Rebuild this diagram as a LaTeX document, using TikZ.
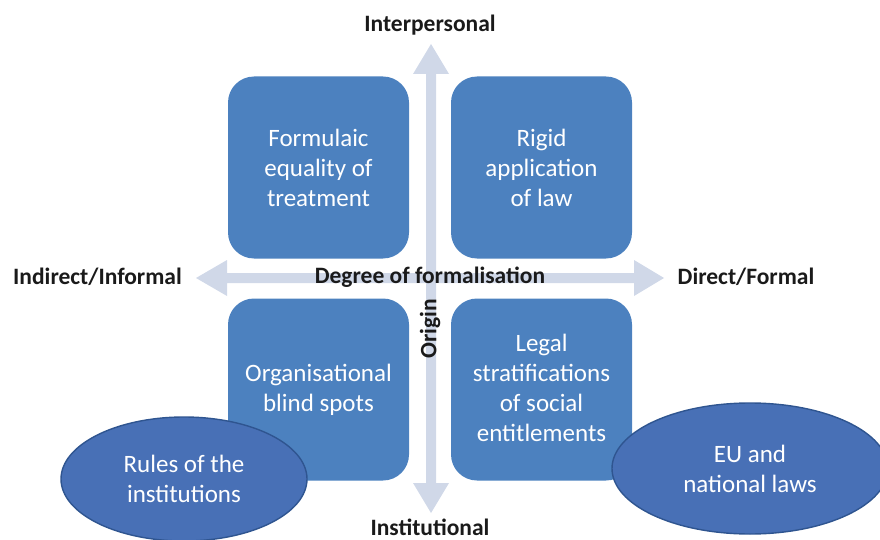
\documentclass[tikz,border=0pt]{standalone}
\usepackage{fontspec}
\setmainfont{Carlito}
\usetikzlibrary{shapes.geometric}
\definecolor{boxblue}{HTML}{4C81BF}
\definecolor{ellblue}{HTML}{4870B6}
\definecolor{ellborder}{HTML}{2F5590}
\definecolor{arrowgray}{HTML}{D0D8E8}
\definecolor{labeltext}{HTML}{1A1A1A}
\tikzset{
  quad/.style={fill=boxblue, rounded corners=26pt, minimum width=181pt, minimum height=182pt,
    inner sep=0pt},
  quadtext/.style={text=white, font=\fontsize{25}{30}\selectfont, align=center, inner sep=0pt},
  oval/.style={ellipse, fill=ellblue, draw=ellborder, line width=1.4pt, text=white,
    font=\fontsize{25}{30}\selectfont, align=center, inner sep=0pt},
  axislabel/.style={font=\fontsize{23.5}{27}\selectfont\bfseries, text=labeltext, inner sep=0pt},
  axisarrow/.style={fill=arrowgray, draw=none}
}
\begin{document}
\begin{tikzpicture}[x=1pt,y=-1pt]
\useasboundingbox (0,0) rectangle (880,540);
% vertical double arrow
\fill[axisarrow] (431,44) -- (449,74) -- (436,74) -- (436,483) -- (449,483) -- (431,513)
  -- (413,483) -- (426,483) -- (426,74) -- (413,74) -- cycle;
% horizontal double arrow
\fill[axisarrow] (196,278) -- (227,260) -- (227,273) -- (634,273) -- (634,260) -- (664,278)
  -- (634,296) -- (634,283) -- (227,283) -- (227,296) -- cycle;
% quadrant boxes
\node[quad] (tl) at (318.5,167.5) {};
\node[quad] (tr) at (541.5,167.5) {};
\node[quad] (bl) at (318.5,389.5) {};
\node[quad] (br) at (541.5,389.5) {};
\node[quadtext] (tlt) at (tl) {Formulaic\\equality of\\treatment};
\node[quadtext] (trt) at (tr) {Rigid\\application\\of law};
\node[quadtext] (blt) at (bl) {Organisational\\blind spots};
\node[quadtext] (brt) at ([yshift=1.5pt]br) {Legal\\stratifications\\of social\\entitlements};
% ellipses
\node[oval, minimum width=246pt, minimum height=124pt] (rules) at (184,479) {Rules of the\\institutions};
\node[oval, minimum width=276pt, minimum height=131pt] (laws) at (750,468.5) {EU and\\national laws};
% axis labels
\node[axislabel] (inter) at (430,25) {Interpersonal};
\node[axislabel] (inst) at (430,527.5) {Institutional};
\node[axislabel] (indir) at (97.5,277) {Indirect/Informal};
\node[axislabel] (dir) at (746,277) {Direct/Formal};
\node[axislabel] (deg) at (430,277) {Degree of formalisation};
\node[axislabel, rotate=90] (orig) at (430,329) {Origin};
\end{tikzpicture}
\end{document}
